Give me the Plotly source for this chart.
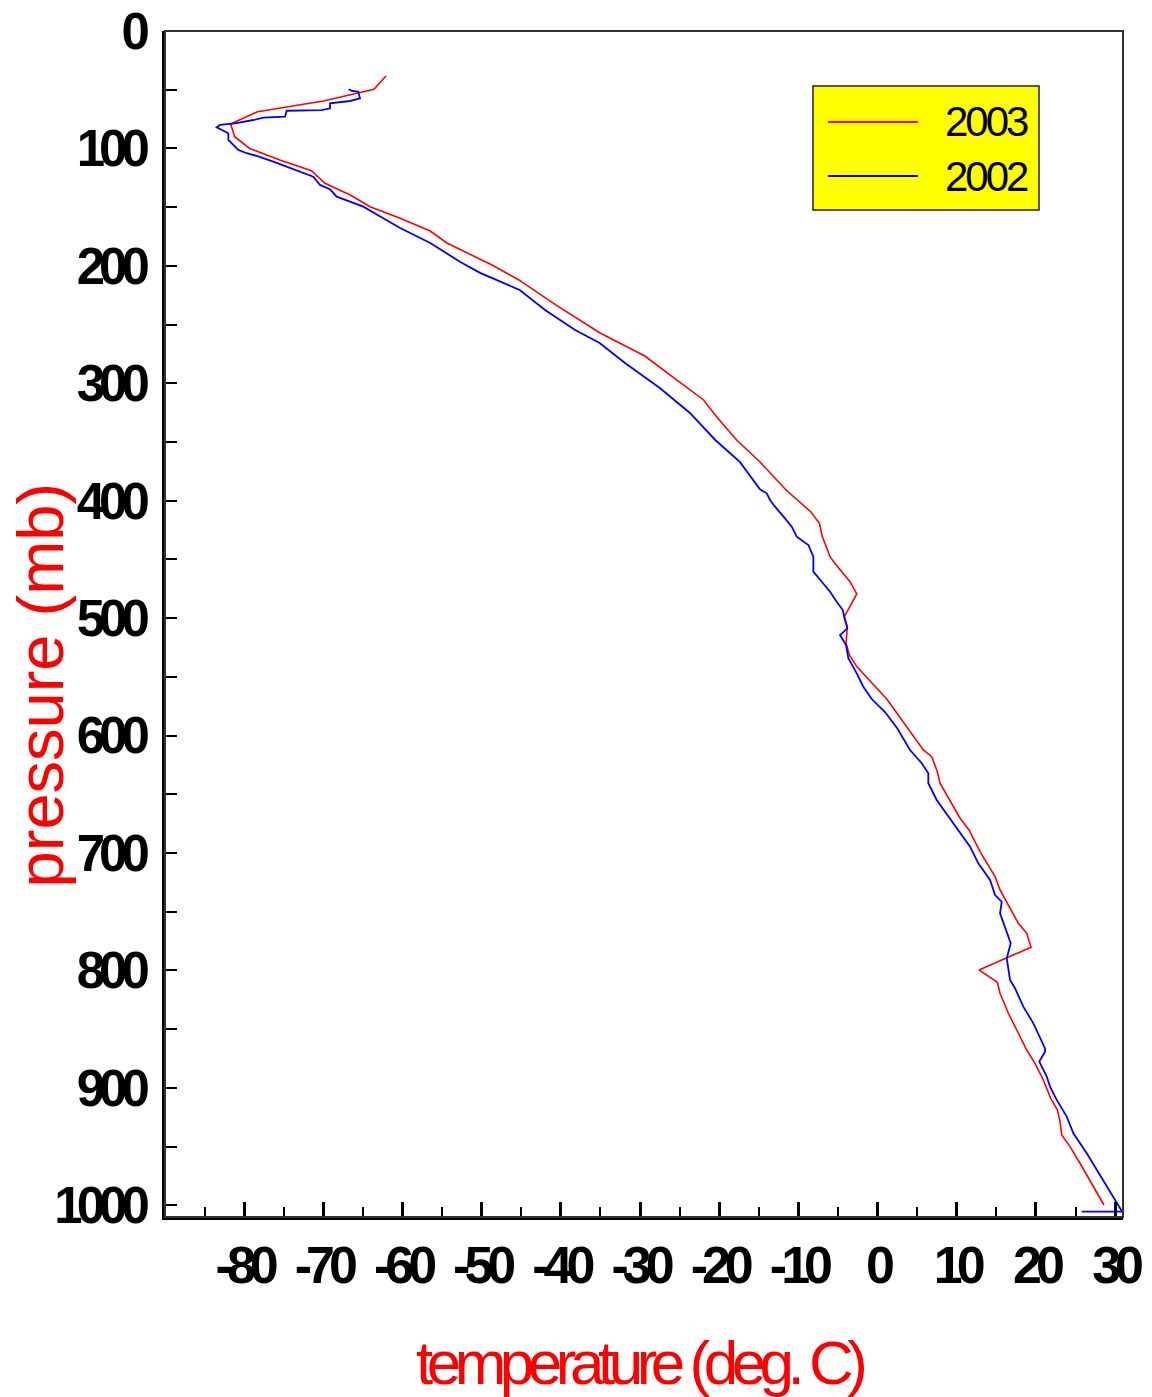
import plotly.graph_objects as go

# Temperature sounding profiles: temperature (deg C) vs pressure (mb)
temp_2003 = [-62.1, -63.6, -70.0, -78.3, -81.7, -81.2, -79.3, -75.5, -71.5, -69.8, -66.6,
             -64.1, -60.3, -56.5, -54.4, -48.7, -45.3, -40.7, -35.1, -29.4, -25.0, -22.0,
             -20.2, -17.8, -14.85, -11.56, -8.44, -7.35, -6.98, -6.0, -5.5, -3.48, -2.63,
             -4.2, -3.82, -3.98, -3.56, -2.63, 1.16, 5.78, 6.84, 7.55, 7.89, 10.42, 11.55,
             12.94, 14.84, 15.47, 17.78, 18.84, 19.39, 12.82, 15.13, 15.47, 16.52, 17.58,
             18.84, 19.89, 20.94, 21.87, 22.71, 23.05, 23.26, 24.31, 25.57, 28.6]
pres_2003 = [38.3, 49.7, 59.6, 68.7, 79.2, 90.0, 100.0, 109.9, 119.0, 129.7, 139.7,
             149.6, 159.5, 170.3, 180.5, 199.3, 212.0, 233.0, 257.0, 276.8, 299.0, 314.0,
             329.6, 348.3, 367.0, 390.9, 409.4, 419.2, 430.6, 447.7, 452.4, 469.0, 479.4,
             498.8, 507.3, 521.4, 531.4, 541.3, 568.9, 612.3, 618.0, 630.8, 640.6, 670.4, 680.4,
             698.9, 720.2, 731.5, 759.9, 768.4, 780.3, 799.6, 810.1, 819.5, 836.5, 850.7,
             867.8, 879.1, 893.3, 908.9, 918.8, 928.8, 940.1, 950.1, 964.2, 999.8]

temp_2002 = [-66.8, -66.34, -65.58, -65.37, -66.63, -69.16, -69.16, -70.21, -74.63,
             -74.84, -77.58, -78.85, -81.16, -83.05, -83.47, -82.84, -82.0, -82.0, -81.37,
             -80.74, -79.68, -78.42, -76.32, -74.21, -71.27, -70.42, -69.16, -68.31, -64.95,
             -62.43, -60.3, -56.5, -52.7, -50.2, -45.2, -42.0, -38.2, -35.1, -31.9, -27.5,
             -23.7, -20.5, -17.4, -14.85, -14.0, -13.58, -12.95, -11.69, -10.84, -10.21,
             -8.74, -8.11, -8.11, -7.05, -6.0, -5.16, -4.4, -4.11, -3.82, -4.74, -3.98,
             -3.69, -2.63, -1.8, -0.74, 0.94, 2.46, 4.1, 5.58, 6.41, 6.41, 7.47, 9.37, 10.2,
             11.68, 12.73, 14.21, 14.84, 15.68, 15.47, 16.32, 16.82, 16.32, 16.73, 17.36,
             18.41, 19.68, 20.52, 21.15, 21.15, 20.43, 20.74, 21.37, 21.79, 22.63, 23.89,
             24.73, 26.42, 27.68, 28.95, 30.0, 30.9, 25.79]
pres_2002 = [49.6, 51.1, 51.7, 57.3, 59.6, 61.6, 65.8, 67.3, 67.9,
             73.0, 73.8, 75.8, 78.6, 80.0, 82.0, 84.3, 87.1, 92.8, 97.1,
             101.3, 104.1, 106.4, 111.3, 116.9, 124.1, 131.1, 134.8, 141.1, 149.6,
             159.5, 167.8, 180.5, 196.7, 206.0, 220.6, 237.6, 254.6, 265.7, 282.7, 304.0,
             325.3, 348.3, 367.0, 390.3, 393.7, 399.4, 405.1, 415.0, 422.1, 430.6,
             437.7, 447.7, 460.4, 469.0, 477.5, 486.0, 493.1, 501.6, 508.7, 514.4, 522.9,
             534.2, 547.0, 558.4, 568.9, 580.0, 593.5, 612.3, 623.6, 632.1, 640.6, 654.9, 673.3, 680.4,
             694.6, 708.8, 723.0, 735.8, 741.5, 751.4, 767.1, 776.9, 789.7, 808.2, 815.2,
             830.9, 845.1, 857.9, 866.4, 869.2, 877.7, 882.0, 890.5, 899.0, 910.3, 924.5,
             938.7, 955.7, 969.9, 984.1, 995.5, 1005.5, 1005.5]

series_names = ["2003", "2002"]
series_colors = ["#ff0000", "#0000ff"]

x_tickvals = [-80, -70, -60, -50, -40, -30, -20, -10, 0, 10, 20, 30]
y_tickvals = [0, 100, 200, 300, 400, 500, 600, 700, 800, 900, 1000]

FONT = "Liberation Sans, Arial, sans-serif"


def tight(text, spacing):
    """Wrap text in a span with negative letter spacing (condensed look)."""
    return f'<span style="letter-spacing:{spacing}px">{text}</span>'


x_ticktext = [tight(f"{v:d}", -6) for v in x_tickvals]
y_ticktext = [tight(f"{v:d}", -6) for v in y_tickvals]

fig = go.Figure()
fig.add_trace(go.Scatter(x=temp_2003, y=pres_2003, mode="lines", name=series_names[0],
                         line=dict(color=series_colors[0], width=1.6)))
fig.add_trace(go.Scatter(x=temp_2002, y=pres_2002, mode="lines", name=series_names[1],
                         line=dict(color=series_colors[1], width=1.8)))

fig.update_layout(
    width=1152, height=1397,
    margin=dict(l=165, r=29, t=31, b=180, autoexpand=False),
    paper_bgcolor="white", plot_bgcolor="white",
    showlegend=False,
)

fig.update_xaxes(
    range=[-90, 31], showgrid=False, zeroline=False, automargin=False,
    showline=True, linecolor="black", linewidth=3, mirror=False,
    tickmode="array", tickvals=x_tickvals, ticktext=x_ticktext, tickangle=0,
    ticks="inside", ticklen=15, tickwidth=2.5, tickcolor="black",
    minor=dict(dtick=5, tick0=0, ticks="inside", ticklen=10, tickwidth=2, tickcolor="black"),
    tickfont=dict(family=FONT, size=52, color="black", weight="bold"),
    ticklabelstandoff=1,
)
fig.update_yaxes(
    range=[1010, 0], showgrid=False, zeroline=False, automargin=False,
    showline=True, linecolor="black", linewidth=3, mirror=False,
    tickmode="array", tickvals=y_tickvals, ticktext=y_ticktext,
    ticks="inside", ticklen=12, tickwidth=2, tickcolor="black",
    minor=dict(dtick=50, tick0=0, ticks="inside", ticklen=12, tickwidth=1.5, tickcolor="black"),
    tickfont=dict(family=FONT, size=51, color="black", weight="bold"),
    ticklabelstandoff=8,
)

# frame around the plotting area
fig.add_shape(type="rect", xref="paper", yref="paper", x0=0, x1=1, y0=0, y1=1,
              line=dict(color="#333333", width=2), layer="above")

# axis titles
fig.add_annotation(text="pressure (mb)", xref="paper", yref="paper", x=-0.129, y=0.4486,
                   textangle=-90, showarrow=False, xanchor="center", yanchor="middle",
                   font=dict(family=FONT, size=65, color="#ff0000"))
fig.add_annotation(text=tight("temperature (deg. C)", -6.5), xref="paper", yref="paper",
                   x=0.4958, y=-0.1223, showarrow=False, xanchor="center", yanchor="middle",
                   font=dict(family=FONT, size=62, color="#ff0000"))

# legend box
fig.add_shape(type="rect", xref="paper", yref="paper", x0=0.6764, x1=0.9123, y0=0.8491, y1=0.9536,
              fillcolor="#ffff00", line=dict(color="#222222", width=1.5), layer="above")
legend_y = [0.9233, 0.8777]
for name, color, ly in zip(series_names, series_colors, legend_y):
    fig.add_shape(type="line", xref="paper", yref="paper", x0=0.6921, x1=0.7860, y0=ly, y1=ly,
                  line=dict(color=color, width=2), layer="above")
    fig.add_annotation(text=tight(name, -3), xref="paper", yref="paper", x=0.9025, y=ly,
                       showarrow=False, xanchor="right", yanchor="middle",
                       font=dict(family=FONT, size=42, color="black"))

fig.write_html("out.html")
